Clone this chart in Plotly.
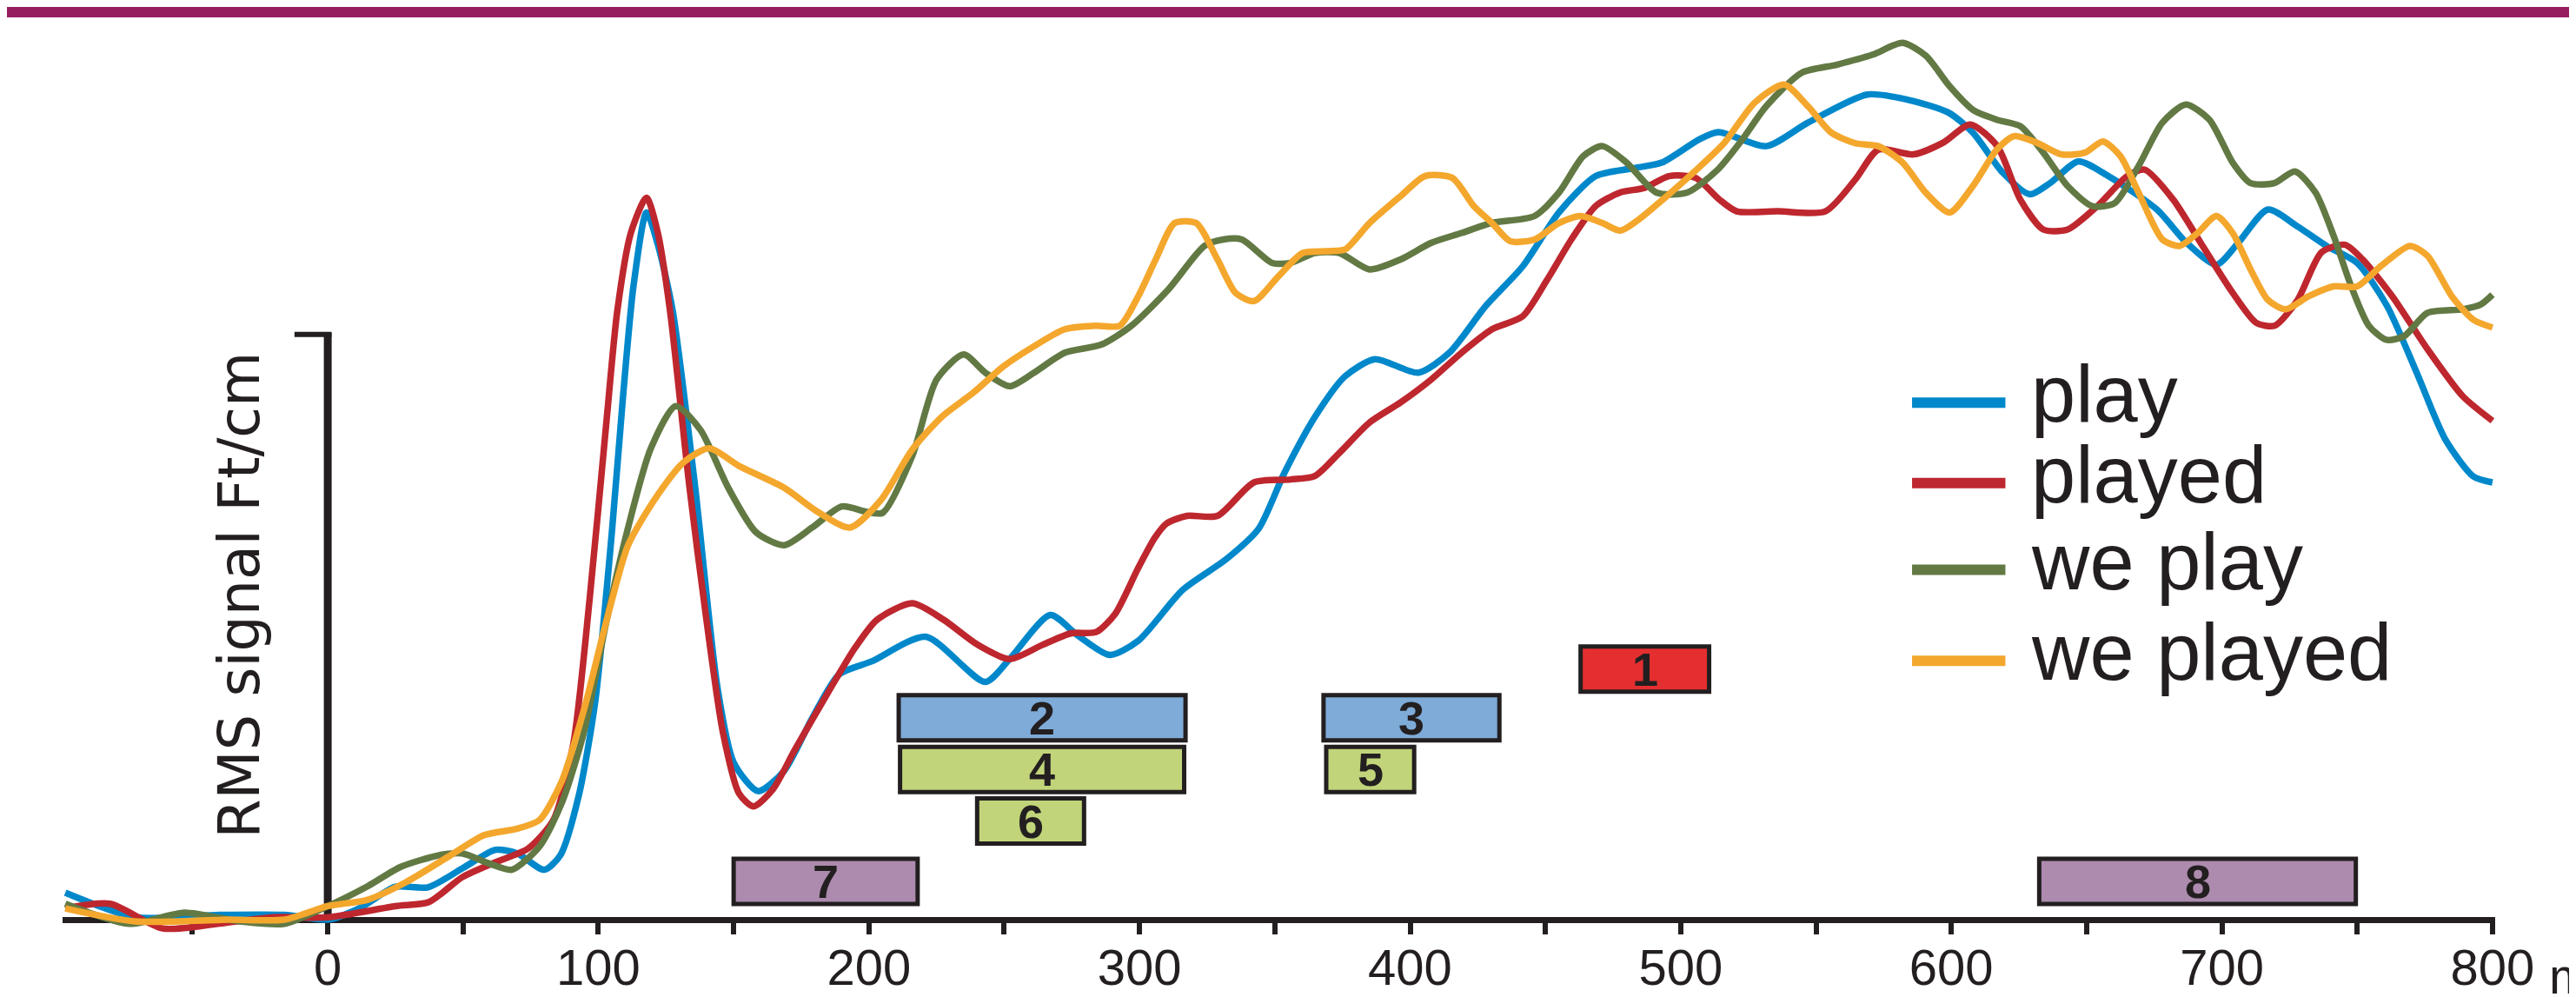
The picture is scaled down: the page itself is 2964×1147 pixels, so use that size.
import plotly.graph_objects as go

# ---------------- data ----------------
series_names = ["play", "played", "we play", "we played"]
series_colors = ["#0088CB", "#BE272E", "#627944", "#F4A72D"]

play_t = [-97, -71, -40, -16, 0, 12, 25, 37, 50, 62, 70, 80, 86, 92.7, 98.8, 105, 109, 113, 117.8, 122,
          127.5, 135.8, 144, 150, 159, 168.6, 179, 189, 201, 221, 243, 252, 267, 277, 289, 299.5, 316,
          332, 344, 353.5, 365, 376, 387, 403, 414.5, 428, 441.6, 455, 468.6, 482, 493, 507, 514, 531.6,
          547, 569, 584, 599, 608, 619, 629, 636.5, 647, 658, 676, 687, 698, 706, 717, 728, 739, 750,
          761, 772, 782.6, 793, 800]
play_v = [0.046, 0.004, 0.008, 0.008, 0.0, 0.02, 0.056, 0.055, 0.088, 0.119, 0.113, 0.085, 0.11, 0.21,
          0.37, 0.66, 0.885, 1.08, 1.205, 1.15, 1.037, 0.736, 0.396, 0.268, 0.219, 0.253, 0.343, 0.418,
          0.44, 0.482, 0.405, 0.444, 0.519, 0.485, 0.451, 0.475, 0.562, 0.614, 0.666, 0.761, 0.858,
          0.926, 0.955, 0.932, 0.966, 1.046, 1.113, 1.205, 1.267, 1.28, 1.29, 1.33, 1.342, 1.318, 1.358,
          1.406, 1.397, 1.375, 1.341, 1.273, 1.236, 1.255, 1.292, 1.267, 1.21, 1.153, 1.116, 1.153,
          1.21, 1.181, 1.147, 1.119, 1.046, 0.932, 0.818, 0.755, 0.745]

played_t = [-97, -80.5, -61, -40.6, -20, 0, 25, 37.4, 49.6, 62, 74, 83.4, 90.7, 96.8, 103, 107, 112,
            117.8, 122, 126.5, 133.7, 140, 146, 152, 157.3, 164.5, 172.7, 185, 195, 203, 216, 227.6,
            240, 252, 264.5, 274.8, 284, 291, 299.5, 305.7, 310, 317.5, 328.8, 342.3, 355.8, 364.8,
            373.8, 385, 396.4, 407.7, 419, 430.3, 441.6, 450.6, 459.6, 468.6, 477.6, 486.7, 495.7,
            505.5, 514.3, 520.7, 536, 553.5, 564.5, 573, 586, 597, 607, 617, 625.5, 634, 643, 654, 665,
            671.4, 682, 693, 704, 712.7, 719.5, 728, 736.8, 745.5, 752, 763, 776, 789, 800]
played_v = [0.019, 0.027, -0.015, -0.007, 0.004, 0.004, 0.023, 0.03, 0.072, 0.098, 0.121, 0.17, 0.298,
            0.547, 0.849, 1.037, 1.17, 1.23, 1.17, 1.037, 0.736, 0.509, 0.32, 0.215, 0.193, 0.222,
            0.29, 0.388, 0.464, 0.511, 0.539, 0.511, 0.469, 0.444, 0.469, 0.488, 0.49, 0.521, 0.599,
            0.651, 0.675, 0.688, 0.688, 0.745, 0.75, 0.756, 0.795, 0.847, 0.881, 0.92, 0.966, 1.006,
            1.028, 1.09, 1.159, 1.216, 1.239, 1.247, 1.267, 1.264, 1.227, 1.207, 1.207, 1.207, 1.261,
            1.312, 1.304, 1.324, 1.355, 1.318, 1.227, 1.176, 1.176, 1.216, 1.267, 1.278, 1.227, 1.147,
            1.068, 1.017, 1.012, 1.056, 1.137, 1.15, 1.125, 1.062, 0.972, 0.892, 0.85]

weplay_t = [-97, -73.4, -53, -32.4, -16, 0, 14.8, 27, 41.5, 49.6, 60, 68, 78.3, 86.6, 94.7, 103, 111,
            119.4, 128.6, 137.8, 148, 158.3, 168.6, 179, 190, 199, 205, 216, 225, 235, 243, 252, 261,
            272.4, 286, 297, 310.7, 324, 331, 337.8, 349, 355.8, 364.8, 373.8, 385, 396.5, 407.7, 419,
            430, 446, 455, 464, 471, 480, 491, 502.4, 513.7, 522.7, 531.6, 544.7, 557.9, 571, 582,
            590.6, 599.4, 608, 616.8, 625.5, 634, 643, 652, 660.4, 669.2, 678, 686.7, 695.4, 704,
            710.6, 719.4, 727, 734.6, 741.3, 747.8, 754.3, 760.8, 767.3, 776, 789, 795.6, 800]
weplay_v = [0.027, -0.007, 0.012, -0.003, -0.007, 0.023, 0.057, 0.09, 0.11, 0.113, 0.095, 0.085, 0.125,
            0.2, 0.32, 0.509, 0.668, 0.803, 0.875, 0.834, 0.736, 0.66, 0.638, 0.668, 0.704, 0.695,
            0.693, 0.79, 0.92, 0.963, 0.932, 0.909, 0.932, 0.966, 0.98, 1.012, 1.074, 1.148, 1.159,
            1.159, 1.119, 1.119, 1.136, 1.136, 1.108, 1.125, 1.153, 1.17, 1.187, 1.199, 1.239, 1.301,
            1.318, 1.29, 1.239, 1.239, 1.278, 1.329, 1.386, 1.443, 1.457, 1.474, 1.494, 1.472, 1.42,
            1.38, 1.363, 1.352, 1.307, 1.25, 1.216, 1.221, 1.284, 1.358, 1.389, 1.363, 1.29, 1.255,
            1.255, 1.275, 1.239, 1.165, 1.079, 1.012, 0.988, 0.994, 1.034, 1.04, 1.048, 1.065]

weplayed_t = [-97, -71.3, -36.5, -16, 0, 14.8, 29, 45.5, 57.8, 70, 78.3, 86.6, 94.7, 103, 111, 121.4,
              131.7, 141, 152, 168.6, 181, 193, 204.6, 216, 227.2, 238.6, 249.8, 261, 272.4, 283.7,
              292.7, 299.5, 306, 313, 320.9, 328.8, 335.5, 342.3, 351.3, 360.3, 369.3, 376, 385,
              396.5, 405.5, 415.6, 423.5, 430.3, 437, 446, 455, 463, 471, 477.7, 484.5, 493.4, 504.7,
              516, 527.3, 538.2, 547, 555.7, 564.5, 573, 582, 590.5, 599.4, 608, 616.8, 623.3, 632,
              640.7, 649.5, 656, 662.5, 669.2, 678, 684.4, 691, 698, 704, 710.6, 717, 723.5, 732,
              741.3, 750, 758.6, 769.5, 776, 785, 793, 800]
weplayed_v = [0.019, -0.003, 0.0, 0.0, 0.023, 0.034, 0.064, 0.11, 0.144, 0.155, 0.17, 0.237, 0.358,
              0.509, 0.638, 0.72, 0.78, 0.803, 0.773, 0.736, 0.695, 0.668, 0.716, 0.801, 0.858, 0.898,
              0.943, 0.977, 1.006, 1.012, 1.012, 1.062, 1.125, 1.187, 1.187, 1.125, 1.068, 1.054,
              1.096, 1.136, 1.139, 1.142, 1.187, 1.233, 1.267, 1.264, 1.216, 1.187, 1.156, 1.159,
              1.187, 1.199, 1.187, 1.174, 1.193, 1.227, 1.273, 1.323, 1.392, 1.423, 1.386, 1.341,
              1.323, 1.318, 1.29, 1.239, 1.205, 1.25, 1.312, 1.335, 1.323, 1.304, 1.307, 1.326, 1.301,
              1.239, 1.159, 1.148, 1.17, 1.199, 1.17, 1.108, 1.056, 1.04, 1.062, 1.079, 1.079, 1.113,
              1.148, 1.131, 1.062, 1.022, 1.009]

series_t = [play_t, played_t, weplay_t, weplayed_t]
series_v = [play_v, played_v, weplay_v, weplayed_v]

# time windows (boxes 1-8)
window_labels = ["1", "2", "3", "4", "5", "6", "7", "8"]
window_start = [463, 211, 368, 211.5, 369, 240, 150, 632.5]
window_end = [510.5, 317, 433, 316.5, 401.5, 279.5, 218, 749.5]
window_level = [0.427, 0.344, 0.344, 0.256, 0.256, 0.168, 0.065, 0.065]
window_colors = ["#E52E2F", "#7EABD8", "#7EABD8", "#C1D47A", "#C1D47A", "#C1D47A", "#AD8BAE", "#AD8BAE"]

tick_vals = list(range(-50, 801, 50))
tick_text = [str(v) if (v >= 0 and v % 100 == 0) else "" for v in tick_vals]
unit_text = "ms"

# ---------------- figure ----------------
INK = "#231F20"
FONT = "Liberation Sans, Arial, sans-serif"
W, H = 2964, 1147
X_RANGE = [-98, 801]
Y_RANGE = [-0.04, 1.53]
BOX_H = 0.077
LEG_Y = [0.881, 0.744, 0.596, 0.441]

fig = go.Figure()
for name, col, t, v in zip(series_names, series_colors, series_t, series_v):
    fig.add_trace(go.Scatter(x=t, y=v, mode="lines", name=name,
                             line=dict(color=col, width=7.5, shape="spline", smoothing=0.7),
                             showlegend=False, hoverinfo="skip"))

shapes = []
# header bar
shapes.append(dict(type="rect", xref="paper", yref="paper", x0=-0.05, x1=1.05, y0=1.0047, y1=1.05,
                   fillcolor="#961E5E", line=dict(width=0), layer="above"))
# y axis line and top tick
shapes.append(dict(type="line", xref="x", yref="y", x0=0, x1=0, y0=0, y1=1.0,
                   line=dict(color=INK, width=9), layer="below"))
shapes.append(dict(type="line", xref="x", yref="y", x0=-12.3, x1=1.4, y0=0.997, y1=0.997,
                   line=dict(color=INK, width=6), layer="below"))
# windows
annotations = []
for lab, s, e, lev, col in zip(window_labels, window_start, window_end, window_level, window_colors):
    shapes.append(dict(type="rect", xref="x", yref="y", x0=s, x1=e, y0=lev - BOX_H / 2, y1=lev + BOX_H / 2,
                       fillcolor=col, line=dict(color=INK, width=5), layer="above"))
    annotations.append(dict(x=(s + e) / 2, y=lev, xref="x", yref="y", text="<b>%s</b>" % lab,
                            showarrow=False, xanchor="center", yanchor="middle",
                            font=dict(family=FONT, size=54, color=INK)))
# legend
for name, col, ly in zip(series_names, series_colors, LEG_Y):
    shapes.append(dict(type="line", xref="x", yref="y", x0=585.5, x1=620, y0=ly, y1=ly,
                       line=dict(color=col, width=12), layer="above"))
    annotations.append(dict(x=628.7, y=ly, xref="x", yref="y", text=name, showarrow=False,
                            xanchor="left", yanchor="middle", yshift=10,
                            font=dict(family=FONT, size=92, color=INK)))
# y title
annotations.append(dict(x=-32.5, y=0.553, xref="x", yref="y", text="RMS signal Ft/cm", textangle=-90,
                        showarrow=False, xanchor="center", yanchor="middle",
                        font=dict(family="DejaVu Sans, Verdana, sans-serif", size=65, color=INK)))
# unit after last tick label
annotations.append(dict(x=800, y=-0.0358, xref="x", yref="paper", text=unit_text, showarrow=False,
                        xanchor="left", yanchor="middle", xshift=63,
                        font=dict(family=FONT, size=58, color=INK)))

fig.update_layout(
    width=W, height=H,
    margin=dict(l=64, r=101, t=17, b=70, autoexpand=False),
    paper_bgcolor="white", plot_bgcolor="white",
    shapes=shapes, annotations=annotations,
    showlegend=False,
    xaxis=dict(range=X_RANGE, showgrid=False, zeroline=False, showline=True, linecolor=INK,
               linewidth=7, anchor="free", position=0.04 / 1.57,
               ticks="outside", ticklen=13, tickwidth=6, tickcolor=INK,
               tickvals=tick_vals, ticktext=tick_text, layer="below traces",
               ticklabelstandoff=-12,
               tickfont=dict(family=FONT, size=58, color=INK)),
    yaxis=dict(range=Y_RANGE, showgrid=False, zeroline=False, showline=False, showticklabels=False,
               ticks=""),
)

fig.write_html("out.html")
